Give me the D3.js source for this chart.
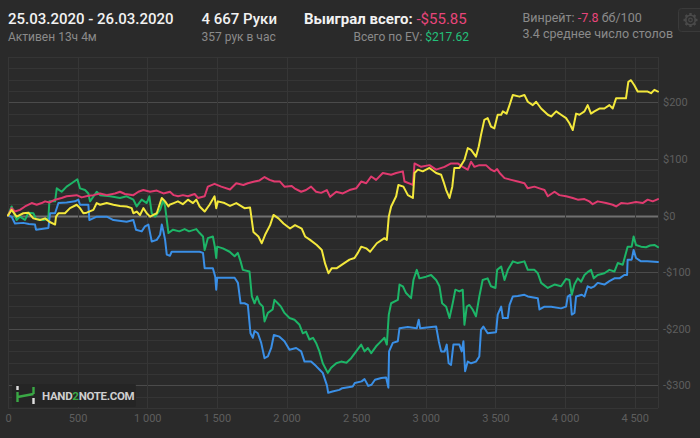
<!DOCTYPE html>
<html><head><meta charset="utf-8">
<script src="https://cdn.jsdelivr.net/npm/d3@7/dist/d3.min.js"></script>
<style>
html,body{margin:0;padding:0;background:#2a2a2a;}
svg{display:block;font-family:Roboto,"Noto Sans",sans-serif;}
</style></head>
<body>
<svg id="c" width="700" height="438"></svg>
<script>
// ---- data ----
const xTicks = [0,500,1000,1500,2000,2500,3000,3500,4000,4500];
const yTicks = [-300,-200,-100,0,100,200];
const totalHands = 4667;

// won (green)
const greenHands = [0,26,62,86,122,146,182,201,254,290,297,338,350,385,421,457,498,517,553,577,589,637,661,733,804,852,900,924,960,996,1015,1032,1056,1092,1116,1128,1152,1185,1230,1268,1300,1352,1376,1400,1412,1435,1471,1485,1495,1502,1543,1591,1627,1650,1670,1686,1734,1751,1770,1789,1806,1830,1842,1866,1900,1913,1937,1960,1985,2021,2057,2093,2117,2140,2164,2190,2212,2236,2260,2296,2320,2357,2392,2430,2464,2500,2536,2560,2584,2608,2643,2667,2703,2720,2734,2751,2799,2811,2835,2858,2894,2911,2935,2954,3002,3038,3074,3098,3117,3146,3170,3193,3212,3241,3265,3277,3294,3313,3336,3360,3384,3408,3444,3468,3500,3512,3541,3565,3589,3625,3660,3708,3732,3780,3804,3828,3876,3924,3971,4007,4031,4048,4067,4091,4115,4139,4167,4186,4206,4234,4282,4318,4354,4378,4414,4449,4478,4492,4509,4545,4581,4610,4641,4667];
const greenValues = [0,16,-8,-2,-8,5,4,-6,-8,-5,25,25,48,42,51,57,64,48,45,39,25,42,36,34,31,34,28,16,28,22,34,4,-2,10,28,16,-31,-25,-28,-24,-28,-24,-31,-37,-61,-40,-37,-55,-75,-55,-58,-64,-72,-66,-81,-96,-99,-143,-155,-143,-155,-161,-187,-172,-166,-149,-155,-161,-172,-181,-184,-193,-208,-205,-219,-216,-225,-240,-261,-278,-269,-261,-258,-260,-252,-240,-228,-240,-234,-243,-231,-225,-216,-228,-175,-155,-149,-122,-125,-137,-146,-114,-96,-111,-108,-105,-114,-125,-155,-161,-181,-155,-131,-134,-131,-193,-161,-158,-166,-178,-143,-114,-111,-125,-128,-96,-90,-114,-96,-81,-84,-81,-96,-96,-102,-119,-128,-122,-125,-112,-114,-140,-122,-111,-117,-105,-99,-96,-111,-105,-102,-96,-99,-84,-87,-55,-55,-37,-52,-55,-56,-53,-52,-56];

// showdown (blue)
const blueHands = [0,26,50,110,150,194,201,290,302,338,362,421,481,505,517,577,584,637,709,733,757,852,900,919,960,984,1008,1032,1068,1092,1104,1116,1128,1140,1163,1175,1240,1300,1376,1400,1412,1471,1488,1495,1502,1543,1627,1651,1670,1698,1722,1741,1758,1770,1794,1818,1842,1866,1890,1909,1949,1985,2021,2069,2105,2129,2176,2212,2236,2260,2290,2299,2330,2379,2400,2475,2490,2539,2560,2587,2610,2635,2680,2715,2731,2736,2763,2799,2811,2871,2935,2949,2959,3074,3093,3110,3135,3150,3164,3181,3198,3241,3258,3270,3282,3301,3325,3360,3384,3396,3413,3444,3504,3516,3541,3553,3589,3601,3625,3660,3708,3732,3804,3816,3852,3900,3971,4007,4019,4036,4048,4067,4079,4120,4139,4162,4186,4210,4234,4282,4318,4354,4390,4425,4445,4449,4478,4492,4509,4545,4590,4667];
const blueValues = [0,-2,-14,-13,-15,-16,-25,-22,4,4,22,23,25,28,19,19,-8,-2,-2,-5,-8,-11,-8,-25,-28,-19,-16,-46,-43,-34,-16,-28,-43,-69,-71,-64,-64,-64,-64,-66,-93,-93,-108,-131,-110,-110,-110,-119,-155,-155,-158,-208,-216,-204,-208,-225,-252,-249,-234,-211,-214,-222,-237,-234,-240,-258,-258,-266,-272,-278,-300,-313,-311,-308,-305,-302,-296,-293,-289,-301,-299,-290,-287,-286,-304,-240,-225,-222,-199,-197,-199,-184,-199,-196,-222,-240,-240,-228,-261,-264,-228,-228,-240,-222,-275,-258,-261,-258,-249,-202,-196,-208,-206,-175,-161,-181,-181,-158,-143,-142,-140,-143,-146,-166,-161,-161,-164,-161,-143,-140,-175,-172,-143,-140,-143,-125,-128,-125,-119,-122,-116,-111,-111,-105,-105,-78,-78,-61,-75,-81,-81,-82];

// non-showdown (pink)
const pinkHands = [0,26,50,86,122,170,206,242,266,297,338,385,421,493,529,577,613,661,709,768,804,840,900,936,972,1020,1068,1116,1163,1190,1221,1256,1292,1340,1364,1412,1435,1483,1531,1594,1639,1690,1722,1770,1806,1842,1878,1913,1953,1985,2037,2057,2105,2140,2176,2212,2248,2289,2313,2357,2404,2452,2500,2536,2572,2608,2643,2691,2751,2787,2835,2847,2907,2919,2966,3026,3074,3134,3181,3229,3265,3301,3325,3349,3384,3432,3468,3493,3512,3530,3565,3613,3660,3708,3732,3780,3816,3852,3876,3924,3959,4007,4055,4091,4139,4174,4198,4234,4294,4342,4366,4402,4449,4509,4557,4593,4629,4667];
const pinkValues = [0,13,7,10,16,22,19,22,25,23,28,31,34,36,32,35,36,39,36,39,42,38,36,42,45,42,44,39,42,36,34,36,34,38,31,34,51,56,51,46,57,54,57,60,62,68,63,60,60,51,52,48,42,45,51,42,40,45,33,42,39,45,48,60,57,69,63,75,72,75,78,60,54,92,86,89,81,86,92,92,86,81,95,86,89,89,81,78,82,75,66,63,60,57,48,51,48,45,34,42,36,34,31,28,29,25,20,25,22,19,16,22,21,24,22,28,25,29];

// EV (yellow)
const yellowHands = [0,26,62,110,146,182,230,266,297,338,345,362,409,445,493,517,541,565,613,637,661,709,757,804,852,888,900,924,948,972,996,1020,1044,1068,1092,1104,1128,1152,1160,1190,1220,1255,1292,1328,1352,1376,1412,1447,1483,1495,1507,1555,1594,1639,1698,1738,1762,1798,1822,1846,1882,1906,1942,1978,2025,2061,2109,2133,2169,2217,2253,2277,2301,2325,2361,2409,2452,2488,2512,2536,2572,2600,2648,2703,2720,2734,2751,2787,2803,2839,2871,2907,2919,2943,2978,3026,3074,3110,3127,3146,3170,3190,3205,3241,3277,3301,3325,3360,3380,3396,3420,3444,3468,3492,3516,3541,3553,3580,3601,3625,3672,3708,3732,3768,3792,3828,3876,3900,3936,3971,4007,4031,4055,4079,4103,4139,4162,4186,4210,4246,4282,4318,4342,4366,4437,4454,4473,4497,4521,4557,4593,4617,4641,4667];
const yellowValues = [0,10,-2,4,5,-5,-8,-5,-11,-16,-2,4,4,13,19,13,4,5,10,22,19,22,19,17,16,13,4,7,1,13,4,-2,1,4,22,31,25,16,19,22,25,20,28,22,28,16,7,19,34,13,25,22,17,22,13,14,-29,-37,-49,-34,-17,1,-5,-14,-23,-17,-23,-37,-43,-52,-61,-85,-102,-93,-93,-85,-78,-75,-66,-55,-58,-64,-49,-40,-43,-2,16,34,54,51,36,31,75,81,78,84,75,72,60,45,31,51,84,84,98,119,116,104,122,142,169,172,157,154,178,178,184,180,195,213,210,213,201,195,201,189,178,175,184,178,172,163,151,180,178,184,195,180,184,189,189,195,189,207,207,236,239,230,219,219,219,216,222,219];

const seriesList = [
  {name:"green", hands:greenHands, values:greenValues, color:"#1db567"},
  {name:"blue", hands:blueHands, values:blueValues, color:"#3a8fe6"},
  {name:"pink", hands:pinkHands, values:pinkValues, color:"#e03a6f"},
  {name:"yellow", hands:yellowHands, values:yellowValues, color:"#f3e83c"}
];

// ---- chart ----
const svg = d3.select("#c");
const W = 700, H = 438;
const plot = {left:8, right:658, top:57, bottom:408};
const x = d3.scaleLinear().domain([0,totalHands]).range([plot.left, plot.right]);
const y = d3.scaleLinear().domain([-340,280]).range([plot.bottom, plot.top]);

svg.append("rect").attr("width",W).attr("height",H).attr("fill","#2a2a2a");

// horizontal grid every 20
const gridVals = d3.range(-340, 281, 20);
svg.append("g").selectAll("line").data(gridVals).join("line")
  .attr("x1",plot.left).attr("x2",plot.right)
  .attr("y1",d=>Math.round(y(d))+0.5).attr("y2",d=>Math.round(y(d))+0.5)
  .attr("stroke",d=> d===0 ? "#707070" : (d%100===0 ? "#4b4b4b" : "#353535"))
  .attr("stroke-width",d=> d===0 ? 2 : 1);

// vertical grid at x ticks + right edge
const vLines = xTicks.concat([totalHands]);
svg.append("g").selectAll("line").data(vLines).join("line")
  .attr("y1",plot.top).attr("y2",plot.bottom)
  .attr("x1",d=>Math.round(x(d))+0.5).attr("x2",d=>Math.round(x(d))+0.5)
  .attr("stroke","#363636").attr("stroke-width",1);

// logo
const logo = svg.append("g");
logo.append("rect").attr("x",12).attr("y",384).attr("width",124).attr("height",23).attr("rx",2).attr("fill","#252525");
logo.append("path").attr("d","M17.5,392 L17.5,402 M17.5,397 L33.5,394 M33.5,394 L33.5,387")
  .attr("stroke","#3aa845").attr("stroke-width",2.4).attr("fill","none");
logo.append("path").attr("d","M17.5,386 L17.5,390 M33.5,398 L33.5,404")
  .attr("stroke","#e0e0e0").attr("stroke-width",2.4).attr("fill","none");
const lt = logo.append("text").attr("x",42).attr("y",399.5).attr("font-size",11.5).attr("font-weight",700)
  .attr("fill","#cfcfcf").attr("letter-spacing",-0.3);
lt.append("tspan").text("HAND");
lt.append("tspan").attr("fill","#3aa845").text("2");
lt.append("tspan").text("NOTE.COM");

// lines
const line = d3.line().x(d=>x(d[0])).y(d=>y(d[1])).curve(d3.curveLinear);
seriesList.forEach(s=>{
  const pts = s.hands.map((h,i)=>[h, s.values[i]]);
  svg.append("path").datum(pts).attr("d",line)
    .attr("fill","none").attr("stroke",s.color).attr("stroke-width",2)
    .attr("stroke-linejoin","round").attr("stroke-linecap","round");
});

// axes
const fmtLocale = d3.formatLocale({decimal:".", thousands:" ", grouping:[3], currency:["$",""]});
const fmtX = fmtLocale.format(",d");
const xAxis = d3.axisBottom(x).tickValues(xTicks).tickFormat(fmtX).tickSize(0).tickPadding(0);
const gx = svg.append("g").attr("transform",`translate(0,${plot.bottom})`).call(xAxis);
gx.select(".domain").remove();
gx.selectAll("text").attr("fill","#5e5e5e").attr("font-size",11).attr("dy",0).attr("y",14)
  .attr("font-family","Roboto,sans-serif");

const fmtY = v => (v<0?"-$":"$") + Math.abs(v);
const yAxis = d3.axisRight(y).tickValues(yTicks).tickFormat(fmtY).tickSize(0).tickPadding(0);
const gy = svg.append("g").attr("transform",`translate(${plot.right+5},0)`).call(yAxis);
gy.select(".domain").remove();
gy.selectAll("text").attr("fill","#5e5e5e").attr("font-size",11).attr("font-family","Roboto,sans-serif");

// header
const hdr = svg.append("g");
hdr.append("text").attr("x",8).attr("y",23.5).attr("font-size",15).attr("font-weight",500).attr("fill","#f2f2f2")
  .text("25.03.2020 - 26.03.2020");
hdr.append("text").attr("x",8).attr("y",41).attr("font-size",12).attr("fill","#8a8a8a").text("Активен 13ч 4м");
hdr.append("text").attr("x",201.5).attr("y",23.5).attr("font-size",15).attr("font-weight",500).attr("fill","#f2f2f2")
  .text("4 667 Руки");
hdr.append("text").attr("x",201.5).attr("y",41).attr("font-size",12).attr("fill","#8a8a8a").text("357 рук в час");
const won = hdr.append("text").attr("x",304).attr("y",23.5).attr("font-size",15);
won.append("tspan").attr("font-weight",700).attr("fill","#f2f2f2").text("Выиграл всего: ");
won.append("tspan").attr("fill","#e8457b").text("-$55.85");
const ev = hdr.append("text").attr("x",469).attr("y",41).attr("font-size",12).attr("text-anchor","end");
ev.append("tspan").attr("fill","#8a8a8a").text("Всего по EV: ");
ev.append("tspan").attr("fill","#23c07a").text("$217.62");
const wr = hdr.append("text").attr("x",522.5).attr("y",22).attr("font-size",12.5);
wr.append("tspan").attr("fill","#8a8a8a").text("Винрейт: ");
wr.append("tspan").attr("fill","#e8457b").text("-7.8");
wr.append("tspan").attr("fill","#8a8a8a").text(" бб/100");
hdr.append("text").attr("x",522.5).attr("y",38).attr("font-size",12.5).attr("fill","#8a8a8a").text("3.4 среднее число столов");

// settings button
const gear = svg.append("g");
gear.append("rect").attr("x",678.5).attr("y",8.5).attr("width",30).attr("height",23).attr("rx",3)
  .attr("fill","#2d2d2d").attr("stroke","#3a3a3a");
const gc = [690.5,20];
const teeth = d3.range(8).map(i=>i*45);
gear.append("g").selectAll("rect").data(teeth).join("rect")
  .attr("x",gc[0]-1.2).attr("y",gc[1]-7).attr("width",2.4).attr("height",3)
  .attr("fill","#4a4a4a").attr("transform",d=>`rotate(${d},${gc[0]},${gc[1]})`);
gear.append("circle").attr("cx",gc[0]).attr("cy",gc[1]).attr("r",4.8).attr("fill","none").attr("stroke","#4a4a4a").attr("stroke-width",1.6);
gear.append("circle").attr("cx",gc[0]).attr("cy",gc[1]).attr("r",1.8).attr("fill","none").attr("stroke","#4a4a4a").attr("stroke-width",1.2);
</script>
</body></html>
